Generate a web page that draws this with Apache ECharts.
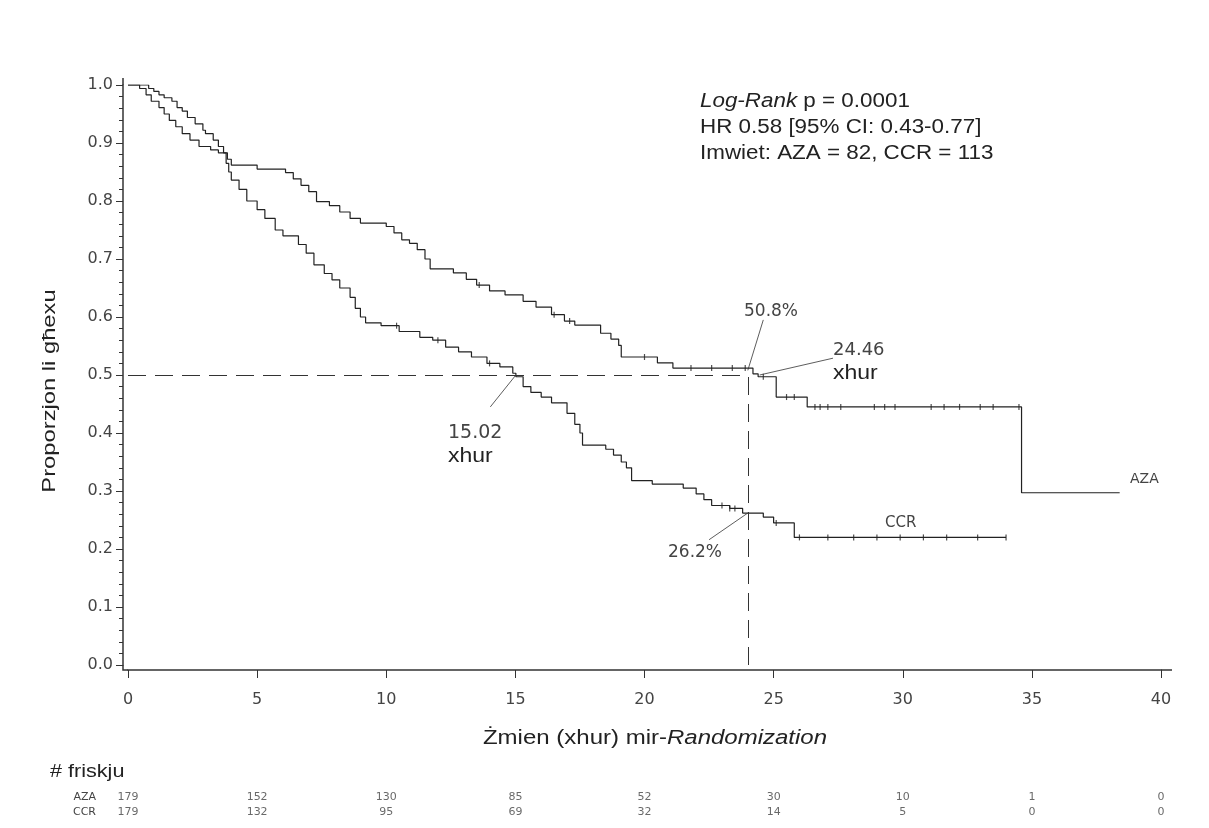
<!DOCTYPE html>
<html>
<head>
<meta charset="utf-8">
<script src="https://cdn.jsdelivr.net/npm/echarts@6/dist/echarts.min.js"></script>
<style>
  html, body { margin: 0; padding: 0; background: #fff; }
  #main { width: 1209px; height: 828px; }
</style>
</head>
<body>
<div id="main"></div>
<script>
// Kaplan-Meier steps (time in months, survival proportion)
const azaTime = [0, 0.8, 1.0, 1.2, 1.4, 1.7, 1.9, 2.1, 2.3, 2.6, 2.9, 3.0, 3.3, 3.5, 3.7, 3.85, 4.0, 5.0, 6.1, 6.4, 6.7, 7.0, 7.3, 7.8, 8.2, 8.6, 9.0, 10.0, 10.3, 10.6, 10.9, 11.2, 11.5, 11.7, 12.6, 13.1, 13.5, 14.0, 14.6, 15.3, 15.8, 16.4, 16.9, 17.3, 18.3, 18.7, 19.0, 19.1, 20.5, 21.1, 24.2, 24.4, 25.1, 26.3, 34.6, 38.4];
const azaSurv = [1.0, 0.994, 0.989, 0.983, 0.978, 0.972, 0.961, 0.955, 0.944, 0.933, 0.922, 0.916, 0.905, 0.894, 0.883, 0.872, 0.862, 0.855, 0.849, 0.838, 0.827, 0.816, 0.799, 0.792, 0.781, 0.770, 0.762, 0.756, 0.745, 0.733, 0.727, 0.716, 0.700, 0.683, 0.676, 0.665, 0.655, 0.645, 0.638, 0.627, 0.617, 0.604, 0.593, 0.586, 0.572, 0.562, 0.551, 0.531, 0.521, 0.512, 0.502, 0.497, 0.462, 0.445, 0.297, 0.297];

const ccrTime = [0, 0.45, 0.7, 0.9, 1.2, 1.4, 1.6, 1.85, 2.1, 2.4, 2.75, 3.2, 3.5, 3.8, 3.9, 4.0, 4.3, 4.6, 5.0, 5.3, 5.7, 6.0, 6.6, 6.9, 7.2, 7.6, 7.9, 8.2, 8.6, 8.8, 9.0, 9.2, 9.8, 10.5, 11.3, 11.8, 12.3, 12.8, 13.3, 13.9, 14.4, 14.9, 15.02, 15.3, 15.6, 16.0, 16.4, 17.0, 17.3, 17.5, 17.6, 18.5, 18.8, 19.1, 19.3, 19.5, 20.3, 21.5, 22.0, 22.3, 22.6, 23.3, 23.8, 24.6, 25.0, 25.8, 34.0];
const ccrSurv = [1.0, 0.994, 0.983, 0.972, 0.961, 0.950, 0.939, 0.928, 0.916, 0.905, 0.894, 0.888, 0.883, 0.865, 0.850, 0.836, 0.820, 0.800, 0.785, 0.770, 0.750, 0.740, 0.725, 0.710, 0.690, 0.675, 0.664, 0.650, 0.634, 0.615, 0.600, 0.590, 0.585, 0.575, 0.565, 0.560, 0.548, 0.540, 0.531, 0.520, 0.514, 0.503, 0.497, 0.480, 0.470, 0.462, 0.452, 0.434, 0.415, 0.400, 0.379, 0.372, 0.362, 0.350, 0.340, 0.318, 0.312, 0.305, 0.295, 0.285, 0.275, 0.270, 0.262, 0.255, 0.245, 0.220, 0.220];

// censored observations (times)
const azaCensor = [13.6, 16.5, 17.1, 20.0, 21.8, 22.6, 23.4, 23.9, 24.6, 25.5, 25.8, 26.6, 26.8, 27.1, 27.6, 28.9, 29.3, 29.7, 31.1, 31.6, 32.2, 33.0, 33.5, 34.5];
const ccrCensor = [10.4, 12.0, 14.0, 23.0, 23.3, 23.5, 25.1, 26.0, 27.1, 28.1, 29.0, 29.9, 30.8, 31.7, 32.9, 34.0];

// number at risk
const riskTimes = [0, 5, 10, 15, 20, 25, 30, 35, 40];
const riskAza = [179, 152, 130, 85, 52, 30, 10, 1, 0];
const riskCcr = [179, 132, 95, 69, 32, 14, 5, 0, 0];

// medians and 24-month survival
const medianCcr = 15.02;
const medianAza = 24.46;
const landmark = 24;
const landmarkAza = 0.508;
const landmarkCcr = 0.262;

function survAt(times, surv, t) {
  let s = surv[0];
  for (let i = 0; i < times.length; i++) {
    if (times[i] <= t) s = surv[i];
  }
  return s;
}

const azaData = azaTime.map((t, i) => [t, azaSurv[i]]);
const ccrData = ccrTime.map((t, i) => [t, ccrSurv[i]]);
const censorData = azaCensor.map(t => [t, survAt(azaTime, azaSurv, t)])
  .concat(ccrCensor.map(t => [t, survAt(ccrTime, ccrSurv, t)]));

const riskData = [];
riskTimes.forEach((t, i) => {
  riskData.push([t, 'AZA', riskAza[i]]);
  riskData.push([t, 'CCR', riskCcr[i]]);
});

const ink = '#222';
const grey = '#444';
const tickFont = 'DejaVu Sans';

const chart = echarts.init(document.getElementById('main'));

const dash = { color: '#333', width: 1, type: [18, 9] };
const lead = { color: '#333', width: 0.8, type: 'solid' };
const axisStroke = { stroke: '#333', lineWidth: 1.5 };

chart.setOption({
  animation: false,
  backgroundColor: '#fff',
  grid: [
    { left: 128, right: 48, top: 85, bottom: 163 },
    { left: 128, right: 48, top: 790, height: 30 }
  ],
  xAxis: [
    {
      type: 'value', min: 0, max: 40, interval: 5, offset: 5,
      axisLine: { onZero: false, lineStyle: { color: '#333', width: 1.5 } },
      axisTick: { length: 8, lineStyle: { color: '#333' } },
      axisLabel: { margin: 22, color: grey, fontFamily: tickFont, fontSize: 16 },
      splitLine: { show: false }
    },
    { type: 'value', gridIndex: 1, min: 0, max: 40, show: false }
  ],
  yAxis: [
    {
      type: 'value', min: 0, max: 1, interval: 0.1, offset: 5,
      axisLine: { show: true, onZero: false, lineStyle: { color: '#333', width: 1.5 } },
      axisTick: { show: true, length: 7, lineStyle: { color: '#333' } },
      minorTick: { show: true, splitNumber: 5, length: 4, lineStyle: { color: '#333' } },
      axisLabel: { margin: 10, color: grey, fontFamily: tickFont, fontSize: 16,
        formatter: v => v.toFixed(1) },
      splitLine: { show: false }
    },
    {
      type: 'category', gridIndex: 1, data: ['CCR', 'AZA'],
      axisLine: { show: false }, axisTick: { show: false },
      axisLabel: { margin: 32, color: grey, fontFamily: tickFont, fontSize: 11 }
    }
  ],
  series: [
    {
      name: 'AZA', type: 'line', step: 'end', data: azaData, showSymbol: false,
      lineStyle: { color: ink, width: 1.2 },
      markLine: {
        silent: true, symbol: ['none', 'none'], label: { show: false },
        data: [
          [{ coord: [0, 0.5], lineStyle: dash }, { coord: [landmark, 0.5] }],
          [{ coord: [landmark, 0], lineStyle: dash }, { coord: [landmark, landmarkAza] }],
          [{ coord: [medianCcr, 0.5], lineStyle: lead }, { coord: [14.03, 0.445] }],
          [{ coord: [landmark, landmarkAza], lineStyle: lead }, { coord: [24.6, 0.595] }],
          [{ coord: [medianAza, 0.5], lineStyle: lead }, { coord: [27.3, 0.529] }],
          [{ coord: [landmark, landmarkCcr], lineStyle: lead }, { coord: [22.5, 0.216] }]
        ]
      }
    },
    {
      name: 'CCR', type: 'line', step: 'end', data: ccrData, showSymbol: false,
      lineStyle: { color: ink, width: 1.2 }
    },
    {
      name: 'censor', type: 'scatter', data: censorData, symbol: 'rect',
      symbolSize: [1.2, 6], itemStyle: { color: ink }, silent: true
    },
    {
      name: 'risk', type: 'scatter', xAxisIndex: 1, yAxisIndex: 1, data: riskData,
      symbolSize: 0, silent: true,
      label: { show: true, position: 'inside', color: grey, fontFamily: tickFont, fontSize: 11,
        formatter: p => p.value[2] }
    }
  ],
  graphic: [
    // axis line corner and small overshoots, as in the original frame
    { type: 'polyline', shape: { points: [[123, 665], [123, 670], [128, 670]] }, style: axisStroke, silent: true },
    { type: 'line', shape: { x1: 123, y1: 78, x2: 123, y2: 85 }, style: axisStroke, silent: true },
    { type: 'line', shape: { x1: 1161, y1: 670, x2: 1172, y2: 670 }, style: axisStroke, silent: true },
    {
      type: 'text', x: 700, y: 101,
      style: { text: '{i|Log-Rank} p = 0.0001', font: '20px "Liberation Sans"', fill: ink,
        verticalAlign: 'middle', textVerticalAlign: 'middle',
        rich: { i: { fontStyle: 'italic', fontSize: 20, fontFamily: 'Liberation Sans', fill: ink, color: ink } } },
      scaleX: 1.12
    },
    {
      type: 'text', x: 700, y: 127,
      style: { text: 'HR 0.58 [95% CI: 0.43-0.77]', font: '20px "Liberation Sans"', fill: ink,
        verticalAlign: 'middle', textVerticalAlign: 'middle' },
      scaleX: 1.12
    },
    {
      type: 'text', x: 700, y: 153,
      style: { text: 'Imwiet: AZA = 82, CCR = 113', font: '20px "Liberation Sans"', fill: ink,
        verticalAlign: 'middle', textVerticalAlign: 'middle' },
      scaleX: 1.12
    },
    {
      type: 'text', x: 50, y: 391, rotation: Math.PI / 2,
      style: { text: 'Proporzjon li għexu', font: '19px "Liberation Sans"', fill: ink,
        align: 'center', textAlign: 'center', verticalAlign: 'middle', textVerticalAlign: 'middle' },
      scaleX: 1.25
    },
    {
      type: 'text', x: 655, y: 738,
      style: { text: 'Żmien (xhur) mir-{i|Randomization}', font: '20px "Liberation Sans"', fill: ink,
        align: 'center', textAlign: 'center', verticalAlign: 'middle', textVerticalAlign: 'middle',
        rich: { i: { fontStyle: 'italic', fontSize: 20, fontFamily: 'Liberation Sans', fill: ink, color: ink } } },
      scaleX: 1.2
    },
    {
      type: 'text', x: 50, y: 772,
      style: { text: '# friskju', font: '18px "Liberation Sans"', fill: ink,
        verticalAlign: 'middle', textVerticalAlign: 'middle' },
      scaleX: 1.2
    },
    {
      type: 'text', x: 771, y: 312,
      style: { text: '50.8%', font: '17px "DejaVu Sans"', fill: grey,
        align: 'center', textAlign: 'center', verticalAlign: 'middle', textVerticalAlign: 'middle' }
    },
    {
      type: 'text', x: 833, y: 350,
      style: { text: '24.46', font: '18px "DejaVu Sans"', fill: grey,
        verticalAlign: 'middle', textVerticalAlign: 'middle' }
    },
    {
      type: 'text', x: 833, y: 373,
      style: { text: 'xhur', font: '20px "Liberation Sans"', fill: ink,
        verticalAlign: 'middle', textVerticalAlign: 'middle' },
      scaleX: 1.15
    },
    {
      type: 'text', x: 448, y: 433,
      style: { text: '15.02', font: '19px "DejaVu Sans"', fill: grey,
        verticalAlign: 'middle', textVerticalAlign: 'middle' }
    },
    {
      type: 'text', x: 448, y: 456,
      style: { text: 'xhur', font: '20px "Liberation Sans"', fill: ink,
        verticalAlign: 'middle', textVerticalAlign: 'middle' },
      scaleX: 1.15
    },
    {
      type: 'text', x: 695, y: 553,
      style: { text: '26.2%', font: '17px "DejaVu Sans"', fill: grey,
        align: 'center', textAlign: 'center', verticalAlign: 'middle', textVerticalAlign: 'middle' }
    },
    {
      type: 'text', x: 1130, y: 479,
      style: { text: 'AZA', font: '14px "DejaVu Sans"', fill: grey,
        verticalAlign: 'middle', textVerticalAlign: 'middle' }
    },
    {
      type: 'text', x: 885, y: 523,
      style: { text: 'CCR', font: '15px "DejaVu Sans"', fill: grey,
        verticalAlign: 'middle', textVerticalAlign: 'middle' }
    }
  ]
});
</script>
</body>
</html>
